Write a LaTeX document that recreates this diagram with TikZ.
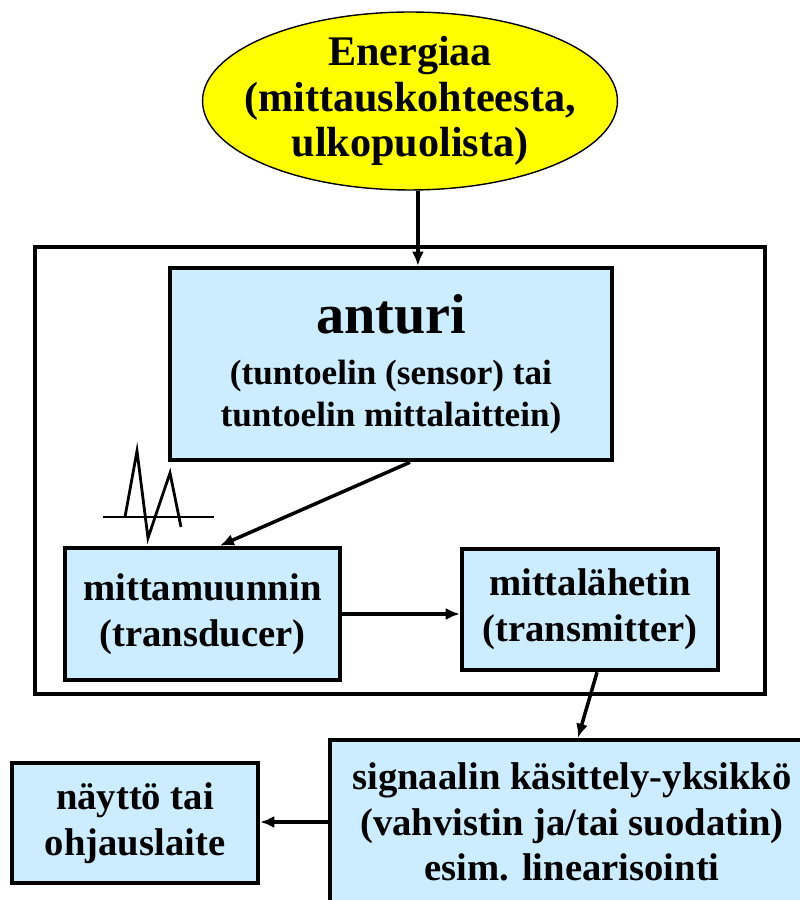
\documentclass[tikz,border=0pt]{standalone}
\usepackage{fontspec}
\setmainfont{Liberation Serif}
\usepackage{tikz}
\usetikzlibrary{arrows.meta,shapes.geometric}
\definecolor{boxblue}{RGB}{204,236,255}
\definecolor{energy}{RGB}{255,255,0}

\begin{document}
\begin{tikzpicture}[x=0.02cm,y=0.02cm,
box/.style={draw,line width=2.6pt,fill=boxblue,align=center,inner sep=0pt,font=\bfseries\fontsize{22}{26}\selectfont},
arr/.style={-{Latex[length=2.8mm,width=2.4mm]},line width=2pt}]
\useasboundingbox (0,0) rectangle (800,900);
\node[ellipse,draw,line width=0.8pt,fill=energy,minimum width=8.3cm,minimum height=3.56cm,inner xsep=-12pt,inner ysep=-2.5pt,align=center,font=\bfseries\fontsize{24}{26}\selectfont] (e) at (410,799) {Energiaa\\(mittauskohteesta,\\ulkopuolista)};
\draw[line width=2.2pt] (35,653) rectangle (765,206);
\node[box,minimum width=8.84cm,minimum height=3.84cm,font=\bfseries\fontsize{20}{23}\selectfont] (a) at (391,536) {{\fontsize{32}{34}\selectfont anturi}\\[6pt](tuntoelin (sensor) tai\\[1pt]tuntoelin mittalaittein)};
\node[box,minimum width=5.5cm,minimum height=2.64cm] (m) at (202.5,286) {mittamuunnin\\(transducer)};
\node[box,minimum width=5.12cm,minimum height=2.42cm] (l) at (590,290.5) {mittalähetin\\(transmitter)};
\node[box,minimum width=9.68cm,minimum height=3.28cm] (s) at (572,78) {signaalin käsittely-yksikkö\\(vahvistin ja/tai suodatin)\\esim. linearisointi};
\node[box,minimum width=4.92cm,minimum height=2.4cm] (n) at (135,77) {näyttö tai\\ohjauslaite};
% signal sketch
\draw[line width=1.6pt] (103,383)--(214,383);
\draw[line width=1.6pt,line join=miter] (125,383)--(137,449)--(148,362)--(170,427)--(181,373);
\draw[arr] ([xshift=4.5pt]e.south)--([xshift=4.5pt]e.south |- a.north);
\draw[arr] ([xshift=10.8pt]a.south)--([xshift=9.9pt]m.north);
\draw[arr] (m.east)--(m.east -| l.west);
\draw[arr] ([xshift=4pt]l.south)--([xshift=3.4pt]s.north);
\draw[arr] (s.west)--(s.west -| n.east);
\end{tikzpicture}
\end{document}
